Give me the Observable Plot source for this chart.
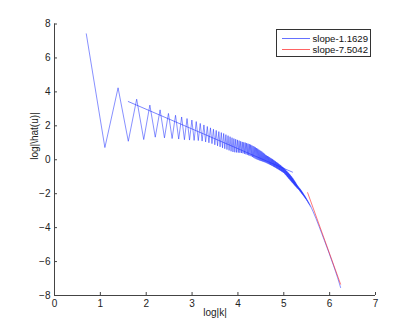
<!DOCTYPE html>
<html><head><meta charset="utf-8">
<script src="https://cdn.jsdelivr.net/npm/d3@7"></script>
<script src="https://cdn.jsdelivr.net/npm/@observablehq/plot@0.6"></script>
<style>
html,body{margin:0;padding:0;background:#fff}
#chart{width:415px;height:332px;overflow:hidden}
</style>
</head><body><div id="chart"></div>
<script>
// wavenumbers k (x axis shows log|k|)
const kDense = d3.range(2, 271);
const kTail = [280, 300, 320, 340, 360, 380, 400, 420, 440, 460, 480, 500, 512];
// log|hat(u)| values, one per k
const logUhatDense = [
  7.42, 0.72, 4.24, 1.09, 3.57, 1.19, 3.22, 1.33, 2.94, 1.29,
  2.73, 1.25, 2.62, 1.22, 2.52, 1.18, 2.43, 1.16, 2.34, 1.14,
  2.25, 1.13, 2.14, 1.10, 2.05, 1.05, 1.96, 1.00, 1.88, 0.95,
  1.80, 0.88, 1.73, 0.82, 1.66, 0.76, 1.60, 0.70, 1.55, 0.65,
  1.48, 0.60, 1.42, 0.55, 1.36, 0.50, 1.30, 0.46, 1.25, 0.44,
  1.21, 0.43, 1.17, 0.42, 1.13, 0.41, 1.09, 0.40, 1.05, 0.38,
  1.03, 0.35, 1.01, 0.32, 0.98, 0.29, 0.95, 0.26, 0.92, 0.23,
  0.89, 0.20, 0.85, 0.16, 0.81, 0.12, 0.77, 0.08, 0.73, 0.04,
  0.69, 0.01, 0.65, -0.01, 0.60, -0.04, 0.56, -0.06, 0.52, -0.08,
  0.48, -0.10, 0.43, -0.12, 0.39, -0.14, 0.34, -0.16, 0.28, -0.18,
  0.25, -0.21, 0.22, -0.23, 0.19, -0.26, 0.16, -0.28, 0.12, -0.31,
  0.09, -0.33, 0.06, -0.36, 0.03, -0.38, 0.00, -0.41, -0.03, -0.43,
  -0.07, -0.46, -0.10, -0.48, -0.13, -0.51, -0.16, -0.53, -0.19, -0.56,
  -0.23, -0.58, -0.26, -0.61, -0.29, -0.63, -0.32, -0.66, -0.35, -0.68,
  -0.39, -0.71, -0.42, -0.73, -0.45, -0.76, -0.48, -0.78, -0.52, -0.82,
  -0.55, -0.86, -0.59, -0.90, -0.63, -0.94, -0.66, -0.98, -0.70, -1.02,
  -0.74, -1.06, -0.77, -1.10, -0.81, -1.13, -0.85, -1.17, -0.88, -1.21,
  -0.92, -1.24, -0.96, -1.28, -1.00, -1.32, -1.04, -1.35, -1.08, -1.38,
  -1.12, -1.42, -1.17, -1.45, -1.21, -1.49, -1.25, -1.52, -1.30, -1.55,
  -1.34, -1.58, -1.39, -1.61, -1.43, -1.64, -1.48, -1.68, -1.52, -1.69,
  -1.56, -1.72, -1.59, -1.75, -1.63, -1.78, -1.66, -1.81, -1.69, -1.85,
  -1.72, -1.88, -1.76, -1.91, -1.79, -1.95, -1.83, -1.98, -1.86, -2.01,
  -1.90, -2.04, -1.94, -2.07, -1.98, -2.10, -2.01, -2.13, -2.05, -2.17,
  -2.09, -2.20, -2.12, -2.23, -2.16, -2.26, -2.19, -2.30, -2.23, -2.32,
  -2.27, -2.36, -2.31, -2.39, -2.35, -2.43, -2.38, -2.46, -2.42, -2.50,
  -2.46, -2.53, -2.49, -2.57, -2.53, -2.60, -2.57, -2.64, -2.61, -2.67,
  -2.65, -2.71, -2.69, -2.74, -2.73, -2.78, -2.77, -2.81, -2.81
];
const logUhatTail = [-3.03, -3.47, -3.92, -4.35, -4.76, -5.15, -5.53, -5.90, -6.25, -6.60, -6.95, -7.31, -7.53];

// fitted slope lines (end points in log|k|, log|hat(u)|)
const fit1LogK = [1.609, 5.19];
const fit1Val = [3.43, -0.73];
const fit2LogK = [5.52, 6.238];
const fit2Val = [-1.94, -7.33];

const legendLabels = ["slope-1.1629", "slope-7.5042"];
const seriesColors = ["#2233ff", "#ff2020"];

const xTicks = [0, 1, 2, 3, 4, 5, 6, 7];
const yTicks = [-8, -6, -4, -2, 0, 2, 4, 6, 8];
const xTitle = "log|k|";
const yTitle = "log|\\hat(u)|";

// ---- build tables
const kAll = kDense.concat(kTail);
const vAll = logUhatDense.concat(logUhatTail);
const spectrum = kAll.map((k, i) => ({logk: Math.log(k), v: vAll[i]}));
const fit1 = fit1LogK.map((x, i) => ({x, y: fit1Val[i]}));
const fit2 = fit2LogK.map((x, i) => ({x, y: fit2Val[i]}));

const W = 415, H = 332, mL = 54, mR = 40, mT = 23.5, mB = 37;
const plotW = W - mL - mR, plotH = H - mT - mB;
const axisColor = "#444";
const font = "'Liberation Sans', Arial, Helvetica, sans-serif";

const chart = Plot.plot({
  width: W, height: H,
  marginLeft: mL, marginRight: mR, marginTop: mT, marginBottom: mB,
  style: {fontFamily: font, fontSize: "10px", background: "white", color: "#222", overflow: "visible"},
  x: {domain: [0, 7], label: null},
  y: {domain: [-8, 8], label: null},
  marks: [
    Plot.line(spectrum, {x: "logk", y: "v", stroke: seriesColors[0], strokeWidth: 0.55}),
    Plot.line(fit1, {x: "x", y: "y", stroke: seriesColors[0], strokeWidth: 0.6}),
    Plot.line(fit2, {x: "x", y: "y", stroke: seriesColors[1], strokeWidth: 0.6}),
    Plot.ruleY([-8], {stroke: axisColor, strokeWidth: 1}),
    Plot.ruleX([0], {stroke: axisColor, strokeWidth: 1}),
    Plot.tickX(xTicks, {x: d => d, insetTop: plotH - 3, stroke: axisColor}),
    Plot.tickY(yTicks, {y: d => d, insetRight: plotW - 3, stroke: axisColor}),
    Plot.axisX(xTicks, {tickSize: 0, tickPadding: 4, label: null, fill: "#222"}),
    Plot.axisY(yTicks, {tickSize: 0, tickPadding: 4, label: null, fill: "#222"}),
    Plot.text([xTitle], {frameAnchor: "bottom", dy: 20, fill: "#222"}),
    Plot.text([yTitle], {frameAnchor: "left", dx: -20, rotate: -90, fill: "#222"})
  ]
});
document.getElementById("chart").appendChild(chart);

// legend box inside the axes (top-right)
const svg = d3.select(chart);
const lg = svg.append("g").attr("font-family", font).attr("font-size", 9.6)
  .attr("fill", "#111").attr("text-anchor", "start");
lg.append("rect").attr("x", 276.5).attr("y", 29.5).attr("width", 94).attr("height", 27)
  .attr("fill", "white").attr("stroke", "#333").attr("stroke-width", 1);
legendLabels.forEach((lab, i) => {
  const y = 38.5 + i * 11;
  lg.append("line").attr("x1", 282).attr("x2", 310).attr("y1", y).attr("y2", y)
    .attr("stroke", seriesColors[i]).attr("stroke-width", 0.7);
  lg.append("text").attr("x", 312.5).attr("y", y).attr("dy", "0.35em")
    .attr("text-anchor", "start").text(lab);
});
</script>
</body></html>
